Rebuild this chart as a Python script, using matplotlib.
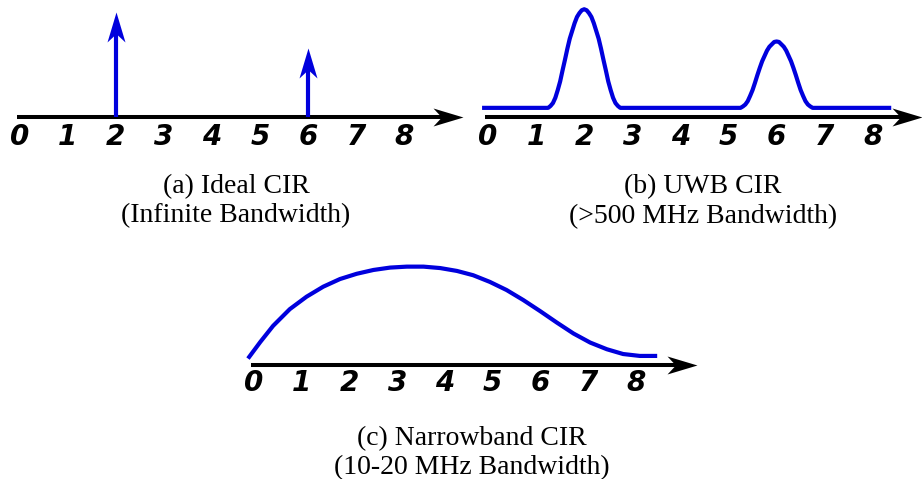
import matplotlib
matplotlib.use("Agg")
import matplotlib.pyplot as plt
from matplotlib.path import Path

# figure size in pixels (dpi 100)
FIG_W, FIG_H = 922, 479

# delay axis ticks
tick_values = [0, 1, 2, 3, 4, 5, 6, 7, 8]
tick_labels = ["0", "1", "2", "3", "4", "5", "6", "7", "8"]

# (a) ideal CIR: two impulses
ideal_delays = [2, 6]
ideal_amps = [2.18, 1.43]

# (b) UWB CIR: two narrow pulses on a small offset
uwb_x = [-0.08,
         1.25, 1.30, 1.35, 1.40, 1.45, 1.50, 1.55, 1.60, 1.65, 1.70,
         1.75, 1.80, 1.85, 1.90, 1.95, 2.00, 2.05, 2.10, 2.15, 2.20,
         2.25, 2.30, 2.35, 2.40, 2.45, 2.50, 2.55, 2.60, 2.65, 2.70, 2.75,
         5.25, 5.30, 5.35, 5.40, 5.45, 5.50, 5.55, 5.60, 5.65, 5.70,
         5.75, 5.80, 5.85, 5.90, 5.95, 6.00, 6.05, 6.10, 6.15, 6.20,
         6.25, 6.30, 6.35, 6.40, 6.45, 6.50, 6.55, 6.60, 6.65, 6.70, 6.75,
         8.34]
uwb_y = [0.19,
         0.19, 0.23, 0.29, 0.40, 0.56, 0.74, 0.97, 1.19, 1.42, 1.63,
         1.79, 1.95, 2.08, 2.16, 2.22, 2.24, 2.22, 2.16, 2.08, 1.95,
         1.79, 1.63, 1.42, 1.19, 0.97, 0.74, 0.56, 0.40, 0.29, 0.23, 0.19,
         0.19, 0.22, 0.26, 0.33, 0.44, 0.56, 0.71, 0.87, 1.02, 1.16,
         1.27, 1.38, 1.46, 1.51, 1.56, 1.57, 1.56, 1.51, 1.46, 1.38,
         1.27, 1.16, 1.02, 0.87, 0.71, 0.56, 0.44, 0.33, 0.26, 0.22, 0.19,
         0.19]

# (c) narrowband CIR: one broad smeared hump
nb_x = [-0.10, 0.13, 0.40, 0.75, 1.10, 1.45, 1.80, 2.15, 2.50, 2.85,
        3.20, 3.55, 3.90, 4.25, 4.59, 4.94, 5.29, 5.64, 5.99, 6.34,
        6.69, 7.04, 7.39, 7.73, 8.08, 8.40]
nb_y = [0.17, 0.48, 0.82, 1.17, 1.43, 1.64, 1.80, 1.91, 1.99, 2.04,
        2.06, 2.06, 2.03, 1.97, 1.88, 1.74, 1.57, 1.36, 1.13, 0.89,
        0.66, 0.47, 0.33, 0.23, 0.19, 0.19]

captions = [
    ["(a) Ideal CIR", "(Infinite Bandwidth)"],
    ["(b) UWB CIR", "(>500 MHz Bandwidth)"],
    ["(c) Narrowband CIR", "(10-20 MHz Bandwidth)"],
]

BLUE = "#0000dd"
AXIS_LW = 2.9
CURVE_LW = 3.0


def stealth(direction):
    """Notched arrow head path with its tip at the origin."""
    L, W, notch = 30.0, 9.0, 0.72
    if direction == "right":
        verts = [(0, 0), (-L, W), (-notch * L, 0), (-L, -W), (0, 0)]
    else:
        verts = [(0, 0), (-W, -L), (0, -notch * L), (W, -L), (0, 0)]
    codes = [Path.MOVETO, Path.LINETO, Path.LINETO, Path.LINETO, Path.CLOSEPOLY]
    return Path(verts, codes)


HEAD_SIZE = 2 * 30 * 72 / 100  # marker size in points for a 30 px head


def panel_axes(fig, x0_px, y0_px, unit_px, xlim, ylim):
    """Axes where one delay unit is unit_px pixels; origin at (x0_px, y0_px) from top-left."""
    left = x0_px + xlim[0] * unit_px
    right = x0_px + xlim[1] * unit_px
    bottom = (FIG_H - y0_px) + ylim[0] * unit_px
    top = (FIG_H - y0_px) + ylim[1] * unit_px
    ax = fig.add_axes([left / FIG_W, bottom / FIG_H,
                       (right - left) / FIG_W, (top - bottom) / FIG_H])
    ax.set_xlim(*xlim)
    ax.set_ylim(*ylim)
    ax.axis("off")
    return ax


def draw_delay_axis(ax, start, tip, unit_px, label_y):
    head_units = 30.0 / unit_px
    ax.plot([start, tip - 0.6 * head_units], [0, 0], color="black",
            lw=AXIS_LW, solid_capstyle="butt", clip_on=False)
    ax.plot([tip], [0], marker=stealth("right"), markersize=HEAD_SIZE,
            color="black", markeredgewidth=0, clip_on=False)
    for v, lab in zip(tick_values, tick_labels):
        ax.text(v, label_y, lab, ha="center", va="center", fontsize=20,
                fontweight="bold", fontstyle="oblique", family="DejaVu Sans")


def caption(fig, x_px, y_px, text):
    fig.text(x_px / FIG_W, 1 - y_px / FIG_H, text, ha="center", va="baseline",
             fontsize=20, family="Liberation Serif")


fig = plt.figure(figsize=(FIG_W / 100, FIG_H / 100), dpi=100)

# (a) ideal CIR
unit_a = 48.1
ax_a = panel_axes(fig, 19.5, 116.7, unit_a, (-0.4, 9.3), (-1.0, 2.4))
draw_delay_axis(ax_a, -0.05, 9.22, unit_a, -0.42)
head_a = 30.0 / unit_a
for d, a in zip(ideal_delays, ideal_amps):
    ax_a.plot([d, d], [0, a - 0.6 * head_a], color=BLUE, lw=CURVE_LW,
              solid_capstyle="butt")
    ax_a.plot([d], [a], marker=stealth("up"), markersize=HEAD_SIZE,
              color=BLUE, markeredgewidth=0, clip_on=False)

# (b) UWB CIR
unit_b = 48.1
ax_b = panel_axes(fig, 488, 117, unit_b, (-0.5, 9.1), (-1.0, 2.4))
ax_b.plot(uwb_x, uwb_y, color=BLUE, lw=CURVE_LW, solid_joinstyle="round")
draw_delay_axis(ax_b, -0.06, 9.02, unit_b, -0.42)

# (c) narrowband CIR
unit_c = 47.75
ax_c = panel_axes(fig, 254, 365, unit_c, (-0.4, 9.4), (-1.0, 2.4))
ax_c.plot(nb_x, nb_y, color=BLUE, lw=CURVE_LW, solid_joinstyle="round")
draw_delay_axis(ax_c, -0.06, 9.28, unit_c, -0.38)

# captions under each panel
caption(fig, 236, 193, captions[0][0])
caption(fig, 236, 222, captions[0][1])
caption(fig, 703, 193, captions[1][0])
caption(fig, 703, 223, captions[1][1])
caption(fig, 472, 445, captions[2][0])
caption(fig, 472, 474, captions[2][1])

fig.savefig("out.png", dpi=100)
